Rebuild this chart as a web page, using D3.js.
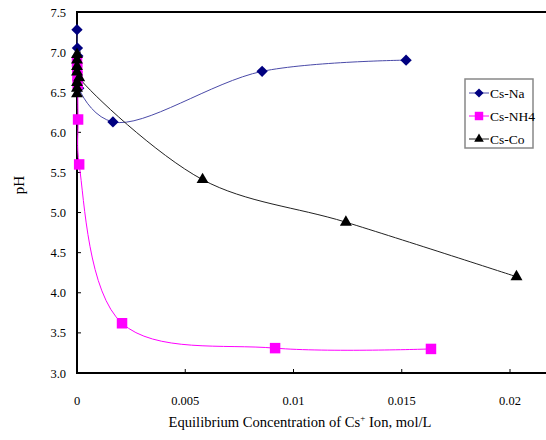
<!DOCTYPE html>
<html><head><meta charset="utf-8">
<script src="https://cdn.jsdelivr.net/npm/d3@7"></script>
<style>body{margin:0;background:#fff}svg{display:block}text{font-family:"Liberation Serif","Times New Roman",serif}</style>
</head><body><svg id="c" width="546" height="440"></svg>
<script>
const seriesNames = ["Cs-Na", "Cs-NH4", "Cs-Co"];
const naX = [0, 0.00002, 0.00004, 0.00008, 0.00166, 0.00855, 0.0152];
const naY = [7.28, 7.05, 6.95, 6.55, 6.13, 6.76, 6.90];
const nhX = [0, 0.00001, 0.00002, 0.00003, 0.00005, 0.0001, 0.00208, 0.00915, 0.01635];
const nhY = [6.88, 6.80, 6.70, 6.60, 6.16, 5.60, 3.62, 3.31, 3.30];
const coX = [0, 0, 0, 0, 0, 0, 0, 0.0001, 0.0058, 0.01242, 0.0203];
const coY = [6.97, 6.90, 6.82, 6.62, 6.55, 6.48, 6.75, 6.68, 5.41, 4.88, 4.20];
const xTicks = [0, 0.005, 0.01, 0.015, 0.02];
const xTickLabels = ["0", "0.005", "0.01", "0.015", "0.02"];
const yTicks = [3.0, 3.5, 4.0, 4.5, 5.0, 5.5, 6.0, 6.5, 7.0, 7.5];

const svg = d3.select("#c");
const L = 77, T = 12, R = 548, B = 373;
const x = d3.scaleLinear().domain([0, 0.02]).range([L, 510]);
const y = d3.scaleLinear().domain([3, 7.5]).range([B, T]);

svg.append("rect").attr("x", L).attr("y", T).attr("width", R - L).attr("height", B - T)
  .attr("fill", "none").attr("stroke", "#000").attr("stroke-width", 2);

const ya = svg.append("g");
yTicks.forEach(v => {
  ya.append("line").attr("x1", L).attr("x2", L + 4).attr("y1", y(v)).attr("y2", y(v)).attr("stroke", "#000");
  ya.append("text").attr("x", 66).attr("y", y(v) + 4.5).attr("text-anchor", "end")
    .attr("font-size", 12.5).text(v.toFixed(1));
});
xTicks.forEach((v, i) => {
  svg.append("line").attr("x1", x(v)).attr("x2", x(v)).attr("y1", B).attr("y2", B - 4).attr("stroke", "#000");
  svg.append("text").attr("x", x(v)).attr("y", 405).attr("text-anchor", "middle")
    .attr("font-size", 12.5).text(xTickLabels[i]);
});

svg.append("text").attr("transform", "translate(24,185) rotate(-90)").attr("text-anchor", "middle")
  .attr("font-size", 15).text("pH");
const xt = svg.append("text").attr("x", 300).attr("y", 427).attr("text-anchor", "middle").attr("font-size", 14.6);
xt.append("tspan").text("Equilibrium Concentration of Cs");
xt.append("tspan").attr("dy", -6).attr("font-size", 9).text("+");
xt.append("tspan").attr("dy", 6).text(" Ion, mol/L");

const line = d3.line().x(d => x(d[0])).y(d => y(d[1])).curve(d3.curveCatmullRom.alpha(0.5));

const series = [
  {name: seriesNames[0], xs: naX, ys: naY, color: "#4a4aa8", fill: "#000080", sym: d3.symbolSquare, size: 64, tf: " rotate(45)"},
  {name: seriesNames[1], xs: nhX, ys: nhY, color: "#ff00ff", fill: "#ff00ff", sym: d3.symbolSquare, size: 110, tf: ""},
  {name: seriesNames[2], xs: coX, ys: coY, color: "#222", fill: "#000", sym: d3.symbolTriangle, size: 62, tf: ""}
];

series.forEach(s => {
  const pts = s.xs.map((v, i) => [v, s.ys[i]]);
  svg.append("path").attr("d", line(pts)).attr("fill", "none").attr("stroke", s.color).attr("stroke-width", 1);
});
series.forEach(s => {
  const pts = s.xs.map((v, i) => [v, s.ys[i]]);
  svg.append("g").selectAll("path").data(pts).join("path")
    .attr("transform", d => `translate(${x(d[0])},${y(d[1])})` + s.tf)
    .attr("d", d3.symbol().type(s.sym).size(s.size)).attr("fill", s.fill);
});

const lg = svg.append("g");
lg.append("rect").attr("x", 465).attr("y", 79).attr("width", 68).attr("height", 69)
  .attr("fill", "#fff").attr("stroke", "#888").attr("stroke-width", 1.5);
series.forEach((s, i) => {
  const yy = 93 + i * 23;
  lg.append("line").attr("x1", 469).attr("x2", 489).attr("y1", yy).attr("y2", yy).attr("stroke", s.color);
  lg.append("path").attr("transform", `translate(479,${yy})` + s.tf)
    .attr("d", d3.symbol().type(s.sym).size(s.size * 0.65)).attr("fill", s.fill);
  lg.append("text").attr("x", 490).attr("y", yy + 4.5).attr("font-size", 13.5).text(s.name);
});
</script></body></html>
